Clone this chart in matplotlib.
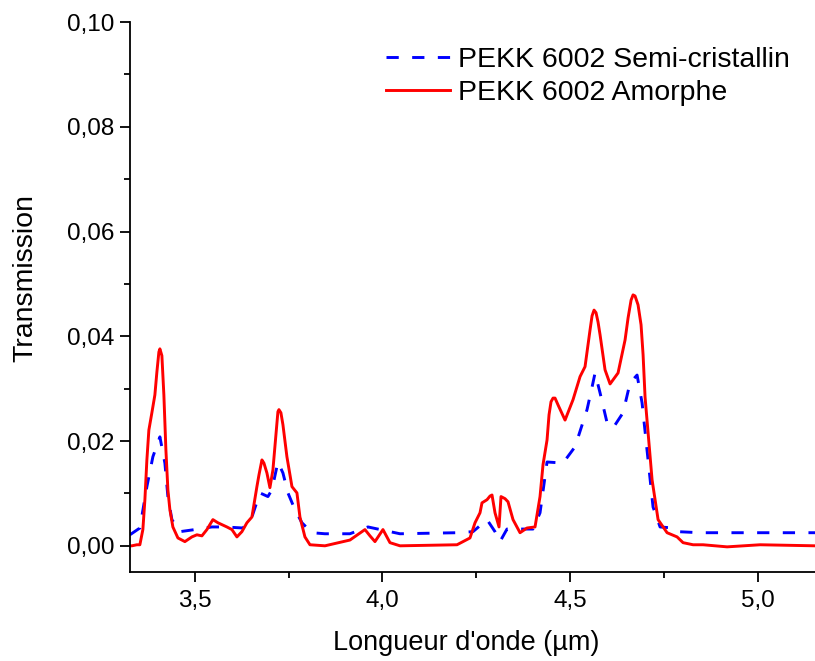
import matplotlib
matplotlib.use("Agg")
import matplotlib.pyplot as plt
from matplotlib.ticker import MultipleLocator, FuncFormatter

plt.rcParams['font.family'] = ['Liberation Sans', 'DejaVu Sans']

# Semi-cristallin (blue dashed)
semi_x = [3.3267, 3.3533, 3.372, 3.388, 3.4067, 3.42, 3.428, 3.4387, 3.46, 3.5,
          3.5453, 3.58, 3.628, 3.652, 3.6733, 3.6947, 3.7053, 3.7213, 3.7347, 3.748,
          3.7667, 3.7853, 3.812, 3.8467, 3.9133, 3.9613, 4.0467, 4.1987, 4.2413, 4.2787,
          4.30, 4.3133, 4.332, 4.4013, 4.42, 4.4387, 4.4813, 4.5133, 4.5453, 4.5587,
          4.5667, 4.58, 4.5987, 4.6147, 4.6413, 4.66, 4.6787, 4.692, 4.708, 4.7213,
          4.74, 4.7747, 4.788, 4.8467, 5.1533]
semi_y = [0.0021, 0.0034, 0.0113, 0.0170, 0.0208, 0.0158, 0.0094, 0.0050, 0.0027, 0.0031,
          0.0036, 0.0036, 0.0034, 0.0055, 0.0101, 0.0094, 0.0107, 0.0160, 0.0139, 0.0101,
          0.0069, 0.0044, 0.0025, 0.0023, 0.0023, 0.0036, 0.0023, 0.0025, 0.0027, 0.0050,
          0.0027, 0.0008, 0.0032, 0.0032, 0.0063, 0.0160, 0.0158, 0.0189, 0.0260, 0.0303,
          0.0330, 0.0292, 0.0235, 0.0225, 0.0254, 0.0311, 0.0326, 0.0273, 0.0164, 0.0074,
          0.0036, 0.0034, 0.0027, 0.0025, 0.0025]

# Amorphe (red solid)
amor_x = [3.3267, 3.332, 3.3453, 3.3533, 3.3613, 3.3667, 3.372, 3.3773, 3.3853, 3.3933,
          3.3987, 3.404, 3.4067, 3.412, 3.4173, 3.4227, 3.428, 3.4333, 3.4413, 3.4547,
          3.4733, 3.492, 3.5053, 3.5187, 3.532, 3.548, 3.5613, 3.5853, 3.5987, 3.612,
          3.6253, 3.6387, 3.652, 3.6653, 3.6707, 3.6787, 3.684, 3.692, 3.70, 3.708,
          3.716, 3.7213, 3.724, 3.7293, 3.7347, 3.7453, 3.7587, 3.772, 3.78, 3.7933,
          3.8067, 3.8467, 3.9133, 3.9533, 3.9667, 3.98, 4.0013, 4.02, 4.0467, 4.1987,
          4.2147, 4.2333, 4.2467, 4.26, 4.2653, 4.2787, 4.2867, 4.292, 4.30, 4.3107,
          4.316, 4.3267, 4.3347, 4.348, 4.3667, 4.3853, 4.4067, 4.42, 4.428, 4.4387,
          4.444, 4.4493, 4.4547, 4.46, 4.468, 4.4867, 4.508, 4.5267, 4.54, 4.5533,
          4.5587, 4.564, 4.5693, 4.5747, 4.58, 4.5933, 4.6067, 4.628, 4.6467, 4.6547,
          4.6627, 4.668, 4.6733, 4.6813, 4.6893, 4.6947, 4.70, 4.7187, 4.7347, 4.7587,
          4.7853, 4.8013, 4.828, 4.8547, 4.9187, 5.0067, 5.1533]
amor_y = [0.0000, 0.0000, 0.0002, 0.0002, 0.0031, 0.0088, 0.0164, 0.0221, 0.0254, 0.0288,
          0.0332, 0.0370, 0.0376, 0.0363, 0.0288, 0.0183, 0.0107, 0.0069, 0.0036, 0.0015,
          0.0008, 0.0017, 0.0021, 0.0019, 0.0031, 0.0050, 0.0044, 0.0036, 0.0031, 0.0017,
          0.0027, 0.0044, 0.0055, 0.0113, 0.0135, 0.0164, 0.0158, 0.0139, 0.0111, 0.0145,
          0.0212, 0.0256, 0.0260, 0.0254, 0.0231, 0.0170, 0.0113, 0.0101, 0.0055, 0.0017,
          0.0002, 0.0000, 0.0011, 0.0031, 0.0019, 0.0008, 0.0031, 0.0006, 0.0000, 0.0002,
          0.0008, 0.0015, 0.0044, 0.0063, 0.0082, 0.0088, 0.0095, 0.0097, 0.0063, 0.0036,
          0.0094, 0.0090, 0.0084, 0.0050, 0.0025, 0.0034, 0.0036, 0.0094, 0.0155, 0.0202,
          0.0250, 0.0275, 0.0282, 0.0282, 0.0269, 0.0240, 0.0279, 0.0323, 0.0342, 0.0412,
          0.0439, 0.0450, 0.0445, 0.0427, 0.0403, 0.0336, 0.0309, 0.0330, 0.0393, 0.0435,
          0.0469, 0.0479, 0.0477, 0.0460, 0.0422, 0.0365, 0.0284, 0.0126, 0.0050, 0.0025,
          0.0017, 0.0006, 0.0002, 0.0002, -0.0002, 0.0002, 0.0000]

labels = ["PEKK 6002 Semi-cristallin", "PEKK 6002 Amorphe"]

fig = plt.figure(figsize=(8.15, 6.61), dpi=100)
ax = fig.add_axes([130/815, 1 - 572/661, 1 - 130/815, (572 - 22)/661])

ax.plot(semi_x, semi_y, color='#0000ff', lw=2.1, dashes=(4.2, 4.6), label=labels[0])
ax.plot(amor_x, amor_y, color='#ff0000', lw=2.1, label=labels[1])

ax.set_xlim(3.327, 5.153)
ax.set_ylim(-0.005, 0.10)
ax.spines['top'].set_visible(False)
ax.spines['right'].set_visible(False)
for s in ('left', 'bottom'):
    ax.spines[s].set_linewidth(1.3)

ax.xaxis.set_major_locator(MultipleLocator(0.5))
ax.xaxis.set_minor_locator(MultipleLocator(0.25))
ax.yaxis.set_major_locator(MultipleLocator(0.02))
ax.yaxis.set_minor_locator(MultipleLocator(0.01))
ax.xaxis.set_major_formatter(FuncFormatter(lambda v, p: f"{v:.1f}".replace('.', ',')))
ax.yaxis.set_major_formatter(FuncFormatter(lambda v, p: f"{v:.2f}".replace('.', ',')))
ax.tick_params(which='major', direction='out', length=7, width=1.3, labelsize=17.5)
ax.tick_params(which='minor', direction='out', length=4, width=1.3)
ax.tick_params(axis='x', which='major', pad=6)
ax.tick_params(axis='y', which='major', pad=4)

ax.set_xlabel("Longueur d'onde (µm)", fontsize=19.5)
ax.set_ylabel("Transmission", fontsize=20.5)
ax.xaxis.set_label_coords(0.4905, -0.105)
ax.yaxis.set_label_coords(-0.134, 0.535)

ax.legend(loc='upper right', frameon=False, fontsize=20.5, handlelength=2.25,
          handletextpad=0.28, labelspacing=0.23, borderaxespad=0,
          bbox_to_anchor=(801/815, 1 - 36/661), bbox_transform=fig.transFigure)

fig.savefig("out.png", dpi=100)
